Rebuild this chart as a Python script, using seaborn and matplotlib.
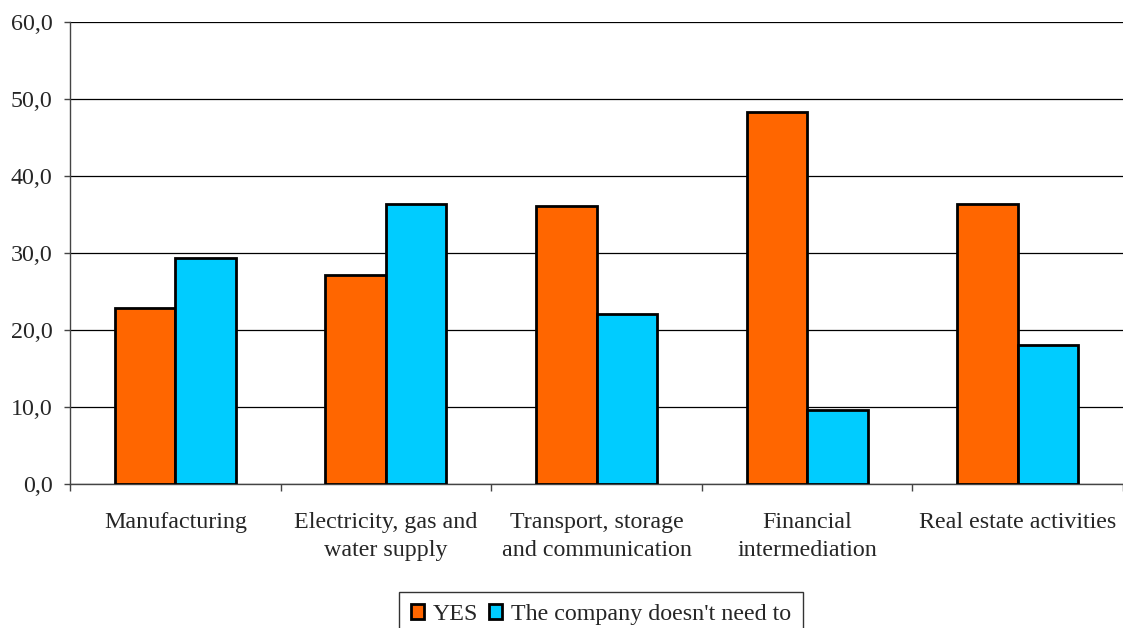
import matplotlib
matplotlib.use("Agg")
import matplotlib.pyplot as plt
import matplotlib.ticker as mticker
import seaborn as sns
import pandas as pd

categories = [
    "Manufacturing",
    "Electricity, gas and\nwater supply",
    "Transport, storage\nand communication",
    "Financial\nintermediation",
    "Real estate activities",
]
series_names = ["YES", "The company doesn't need to"]
yes_values = [22.8, 27.2, 36.1, 48.3, 36.3]
no_need_values = [29.4, 36.4, 22.1, 9.6, 18.1]
y_ticks = [0, 10, 20, 30, 40, 50, 60]

df = pd.DataFrame({
    "category": categories * 2,
    "series": [series_names[0]] * len(categories) + [series_names[1]] * len(categories),
    "value": yes_values + no_need_values,
})

sns.set_theme(style="white")
plt.rcParams["font.family"] = ["Liberation Serif", "DejaVu Serif"]

W, H = 1123, 628
FS = 17.3
fig = plt.figure(figsize=(W / 100, H / 100), dpi=100)
ax = fig.add_axes([70 / W, (H - 484) / H, (W - 70) / W, 462 / H])

palette = {series_names[0]: "#FF6600", series_names[1]: "#00CCFF"}
sns.barplot(data=df, x="category", y="value", hue="series", order=categories,
            hue_order=series_names, palette=palette, width=0.575, gap=0,
            edgecolor="black", linewidth=2, saturation=1, ax=ax, zorder=3)

ax.set_ylim(0, 60)
ax.set_xlim(-0.5, len(categories) - 0.5)
ax.set_yticks(y_ticks)
ax.yaxis.set_major_formatter(mticker.FuncFormatter(lambda v, p: f"{v:.1f}".replace(".", ",")))
ax.grid(axis="y", color="black", linewidth=0.9, zorder=0)
ax.grid(axis="x", visible=False)
ax.set_axisbelow(True)

for side in ["top", "right"]:
    ax.spines[side].set_visible(False)
for side in ["left", "bottom"]:
    ax.spines[side].set_color("#444444")
    ax.spines[side].set_linewidth(1)

ax.set_xlabel("")
ax.set_ylabel("")
ax.tick_params(axis="y", which="major", left=True, length=4.5, width=1, color="#444444",
               labelsize=FS, pad=8)
ax.tick_params(axis="x", which="major", bottom=False, length=0, labelsize=FS, pad=20)
ax.set_xticks(range(len(categories)))
ax.set_xticklabels(categories, linespacing=1.45)
ax.set_xticks([i - 0.5 for i in range(len(categories) + 1)], minor=True)
ax.tick_params(axis="x", which="minor", bottom=True, length=5, width=1, color="#444444")

leg = ax.legend(loc="upper center", bbox_to_anchor=(601 / W, (H - 592) / H),
                bbox_transform=fig.transFigure, ncol=2, frameon=True,
                fontsize=FS, handlelength=0.55, handleheight=0.55,
                handletextpad=0.35, columnspacing=0.45, borderpad=0.5,
                borderaxespad=0, fancybox=False, edgecolor="black")
leg.get_frame().set_linewidth(1)
for h in leg.legend_handles:
    h.set_edgecolor("black")
    h.set_linewidth(2)

fig.savefig("out.png", dpi=100)
